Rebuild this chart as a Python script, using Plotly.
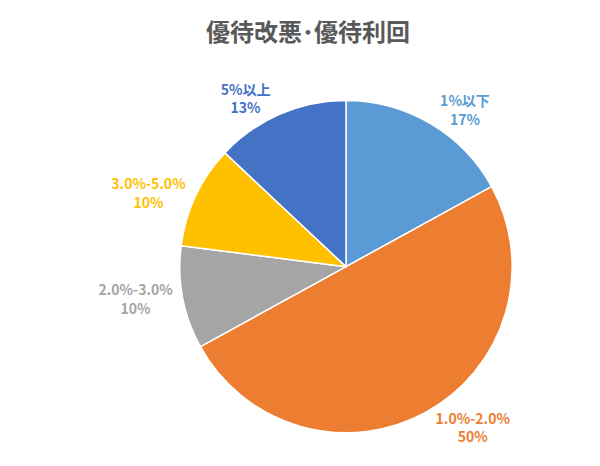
import plotly.graph_objects as go

labels = ["1%以下", "1.0%-2.0%", "2.0%-3.0%", "3.0%-5.0%", "5%以上"]
values = [17, 50, 10, 10, 13]
colors = ["#5B9BD5", "#ED7D31", "#A5A5A5", "#FFC000", "#4472C4"]

fig = go.Figure(go.Pie(
    labels=labels, values=values, sort=False, direction="clockwise", rotation=0,
    marker=dict(colors=colors, line=dict(color="white", width=1.5)),
    textposition="outside", texttemplate="<b>%{label}</b><br><b>%{percent:.0%}</b>",
    textfont=dict(color=colors, size=14, family="Noto Sans CJK JP"),
    outsidetextfont=dict(color=colors, size=14),
    showlegend=False, hole=0,
    domain=dict(x=[0.1, 0.9], y=[0.07, 0.815]),
))
fig.update_layout(
    width=600, height=466, paper_bgcolor="white",
    margin=dict(l=0, r=0, t=10, b=10),
    title=dict(text="<b>優待改悪･優待利回</b>", x=0.5, y=0.965, xanchor="center",
               font=dict(size=24, color="#595959", family="Noto Sans CJK JP")),
)
fig.write_html("out.html")
